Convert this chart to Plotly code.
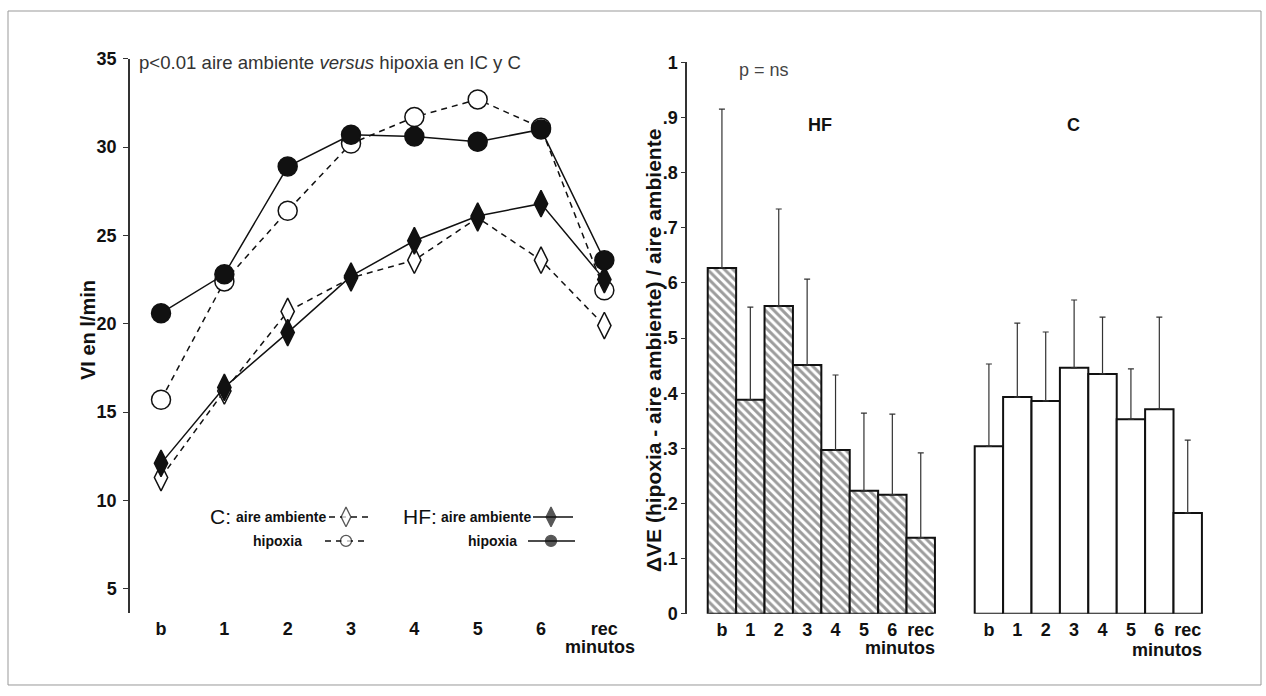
import plotly.graph_objects as go

W, H = 1266, 696
FONT = "Liberation Sans, Arial, sans-serif"

# ---------------- data ----------------
minutes = ["b", "1", "2", "3", "4", "5", "6", "rec"]

# left chart: VI en l/min
c_aire = [11.3, 16.2, 20.7, 22.6, 23.6, 26.0, 23.6, 19.9]
c_hipoxia = [15.7, 22.4, 26.4, 30.2, 31.7, 32.7, 31.1, 21.9]
hf_aire = [12.1, 16.4, 19.5, 22.7, 24.7, 26.1, 26.8, 22.5]
hf_hipoxia = [20.6, 22.8, 28.9, 30.7, 30.6, 30.3, 31.0, 23.6]
left_yticks = [5, 10, 15, 20, 25, 30, 35]

# right chart: delta VE relative
hf_delta = [0.627, 0.388, 0.558, 0.451, 0.297, 0.223, 0.216, 0.138]
hf_sd = [0.288, 0.168, 0.176, 0.156, 0.136, 0.141, 0.146, 0.154]
c_delta = [0.304, 0.393, 0.386, 0.446, 0.435, 0.353, 0.371, 0.183]
c_sd = [0.149, 0.134, 0.125, 0.123, 0.103, 0.091, 0.167, 0.132]
right_yticks = [0, 0.1, 0.2, 0.3, 0.4, 0.5, 0.6, 0.7, 0.8, 0.9, 1.0]
right_yticklabels = ["0", ".1", ".2", ".3", ".4", ".5", ".6", ".7", ".8", ".9", "1"]

# ---------------- layout geometry ----------------
# target positions are given in picture pixels; R() maps a picture y to a layout y
def R(y):
    return (y - 9.7) / 0.972

L_X0, L_X1, L_XR = 130, 636, (-0.49, 7.5)
L_Y0, L_Y1, L_YR = R(58.5), R(613), (3.64, 35)
R_X0, R_X1, R_XR = 687, 1213, (-1.23, 17.29)
R_Y0, R_Y1, R_YR = R(62), R(614), (0, 1)
C_OFFSET = 9.4

def dx(a, b):
    return [a / W, b / W]

def dy(top, bottom):
    return [max(0, 1 - bottom / H), min(1, 1 - top / H)]

def lx(px):
    return L_XR[0] + (px - L_X0) * (L_XR[1] - L_XR[0]) / (L_X1 - L_X0)

def ly(py):
    return L_YR[1] - (R(py) - L_Y0) * (L_YR[1] - L_YR[0]) / (L_Y1 - L_Y0)

xs = list(range(len(minutes)))

fig = go.Figure()

def line_trace(y, dash, symbol, fill, size):
    return go.Scatter(
        x=xs, y=y, xaxis="x", yaxis="y", mode="lines+markers", showlegend=False,
        line=dict(color="#111", width=1.5, dash=dash),
        marker=dict(symbol=symbol, size=size, color=fill, line=dict(color="#111", width=1.5)),
        cliponaxis=False,
    )

fig.add_trace(line_trace(c_aire, "6px,5px", "diamond-tall", "white", 19))
fig.add_trace(line_trace(c_hipoxia, "6px,5px", "circle", "white", 19))
fig.add_trace(line_trace(hf_aire, "solid", "diamond-tall", "#111", 19))
fig.add_trace(line_trace(hf_hipoxia, "solid", "circle", "#111", 19))

# bars
fig.add_trace(go.Bar(
    x=xs, y=hf_delta, xaxis="x2", yaxis="y2", width=1, showlegend=False,
    marker=dict(color="white", line=dict(color="#111", width=2),
                pattern=dict(shape="\\", fgcolor="#3a3a3a", bgcolor="white", size=6, solidity=0.5)),
    error_y=dict(type="data", symmetric=False, array=hf_sd, arrayminus=[0] * len(hf_sd),
                 color="#333", thickness=1.2, width=3),
))
fig.add_trace(go.Bar(
    x=[x + C_OFFSET for x in xs], y=c_delta, xaxis="x2", yaxis="y2", width=1, showlegend=False,
    marker=dict(color="white", line=dict(color="#111", width=2)),
    error_y=dict(type="data", symmetric=False, array=c_sd, arrayminus=[0] * len(c_sd),
                 color="#333", thickness=1.2, width=3),
))

# legend markers (left chart)
leg_rows = {"aire": 517, "hip": 541}
fig.add_trace(go.Scatter(
    x=[lx(346), lx(346), lx(551), lx(551)],
    y=[ly(leg_rows["aire"]), ly(leg_rows["hip"]), ly(leg_rows["aire"]), ly(leg_rows["hip"])],
    xaxis="x", yaxis="y", mode="markers", showlegend=False, cliponaxis=False,
    marker=dict(symbol=["diamond-tall", "circle", "diamond-tall", "circle"], size=[14, 11, 14, 11],
                color=["white", "white", "#111", "#111"], line=dict(color="#111", width=1.3)),
))

def py2paper(y):
    return 1 - R(y) / H

shapes = [
    dict(type="rect", xref="paper", yref="paper", x0=8 / W, x1=1261 / W,
         y0=max(0.0015, py2paper(688)), y1=min(0.9985, py2paper(8)),
         line=dict(color="#999", width=1), layer="below"),
]
def hline(x0, x1, py, dash):
    return dict(type="line", xref="paper", yref="paper", x0=x0 / W, x1=x1 / W, y0=py2paper(py), y1=py2paper(py),
                line=dict(color="#111", width=1.5, dash=dash), layer="below")
shapes += [
    hline(329, 368, leg_rows["aire"], "6px,5px"),
    hline(325, 368, leg_rows["hip"], "6px,5px"),
    hline(533, 573, leg_rows["aire"], "solid"),
    hline(528, 575, leg_rows["hip"], "solid"),
]

def ann(text, x, y, size, bold=False, xanchor="center", yanchor="middle", angle=0, color="#111"):
    return dict(text=text, x=x / W, y=py2paper(y), xref="paper", yref="paper", showarrow=False,
                xanchor=xanchor, yanchor=yanchor, textangle=angle,
                font=dict(family=FONT, size=size, color=color, weight="bold" if bold else "normal"))

annotations = [
    ann("p<0.01 aire ambiente <i>versus</i> hipoxia en IC y C", 137, 62, 18.6, xanchor="left", color="#333"),
    ann("p = ns", 737, 70, 18, xanchor="left", color="#444"),
    ann("HF", 820, 125, 18, bold=True),
    ann("C", 1073, 125, 18, bold=True),
    ann("VI en l/min", 88, 330, 20, bold=True, angle=-90),
    ann("\u0394VE (hipoxia - aire ambiente) / aire ambiente", 653, 351, 21, bold=True, angle=-90),
    ann("minutos", 637, 647, 18, bold=True, xanchor="right"),
    ann("minutos", 937, 648, 18, bold=True, xanchor="right"),
    ann("minutos", 1204, 650, 18, bold=True, xanchor="right"),
    # legend texts
    ann("C:", 233, leg_rows["aire"], 21, xanchor="right"),
    ann("aire ambiente", 234, leg_rows["aire"], 14, bold=True, xanchor="left"),
    ann("hipoxia", 304, leg_rows["hip"], 14, bold=True, xanchor="right"),
    ann("HF:", 439, leg_rows["aire"], 21, xanchor="right"),
    ann("aire ambiente", 439, leg_rows["aire"], 14, bold=True, xanchor="left"),
    ann("hipoxia", 519, leg_rows["hip"], 14, bold=True, xanchor="right"),
]

tickfont = dict(family=FONT, size=18, color="#111", weight="bold")

fig.update_layout(
    width=W, height=H, autosize=False,
    margin=dict(l=0, r=0, t=0, b=0, pad=0),
    paper_bgcolor="white", plot_bgcolor="white",
    barmode="overlay",
    shapes=shapes, annotations=annotations,
    xaxis=dict(domain=dx(L_X0, L_X1), range=list(L_XR), anchor="y",
               tickmode="array", tickvals=xs, ticktext=minutes, tickfont=tickfont,
               showline=False, showgrid=False, zeroline=False, ticks="", ticklabelstandoff=3),
    yaxis=dict(domain=dy(L_Y0, L_Y1), range=list(L_YR), anchor="x",
               tickmode="array", tickvals=left_yticks, ticktext=[str(v) for v in left_yticks],
               tickfont=tickfont, showline=True, linecolor="#333", linewidth=1.5,
               ticks="outside", ticklen=5, tickcolor="#333", tickwidth=1.2,
               showgrid=False, zeroline=False, ticklabelstandoff=3),
    xaxis2=dict(domain=dx(R_X0, R_X1), range=list(R_XR), anchor="y2",
                tickmode="array", tickvals=xs + [x + C_OFFSET for x in xs], ticktext=minutes + minutes,
                tickfont=tickfont, showline=False, showgrid=False, zeroline=False, ticks="",
                ticklabelstandoff=3),
    yaxis2=dict(domain=dy(R_Y0, R_Y1), range=list(R_YR), anchor="x2",
                tickmode="array", tickvals=right_yticks, ticktext=right_yticklabels,
                tickfont=tickfont, showline=True, linecolor="#333", linewidth=1.5,
                ticks="outside", ticklen=4, tickcolor="#333", tickwidth=1.2,
                showgrid=False, zeroline=False, ticklabelstandoff=0),
)

post = ("document.body.style.margin='0';"
        "var g=document.getElementById('{plot_id}');"
        "g.style.position='absolute';g.style.left='0px';g.style.top='0px';")

fig.write_html("out.html", config={"displayModeBar": False}, post_script=post)
